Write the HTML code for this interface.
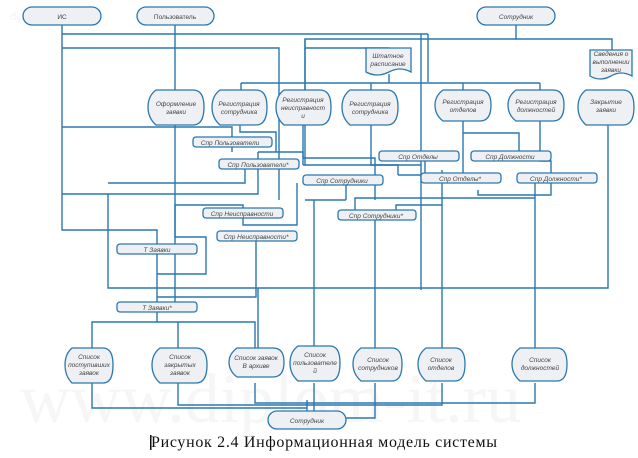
<!DOCTYPE html>
<html><head><meta charset="utf-8"><style>
html,body{margin:0;padding:0;background:#fff;width:638px;height:458px;overflow:hidden}
svg{display:block}
text{font-family:"Liberation Sans",sans-serif;font-style:italic;font-size:6.5px;fill:#444}
.l{fill:none;stroke:#2a78b0;stroke-width:1.4}
.s{fill:#eef0f3;stroke:#2a78b0;stroke-width:1.3}
</style></head><body>
<svg width="638" height="458" viewBox="0 0 638 458">
<text x="10" y="20" style="font-size:11px;fill:#f3f3f3;font-style:normal">diplom-it.ru</text>
<text x="20" y="422" style="font-size:70px;fill:#f6f6f6;font-family:'Liberation Serif',serif;font-style:normal">www.diplom-it.ru</text>
<g class="l">
<path d="M62 25V230H157V244"/>
<path d="M62 34H428"/>
<path d="M62 48H279V200"/>
<path d="M175 25V305"/>
<path d="M516 25V39H305V83"/>
<path d="M305 39V48H389M516 39H612V50"/>
<path d="M241 83H540M241 83V90M305 83V93M389 74V83M371 83V90M463 83V96M540 83V96"/>
<path d="M421 34V290M428 34V82"/>
<path d="M305 48V165"/>
<path d="M62 127H232V147M240 125V132H276V152"/>
<path d="M62 194H108V288H608V125"/>
<path d="M258 152H303V165M258 152V194H108"/>
<path d="M232 147V152M245 169V183H175M175 183H108"/>
<path d="M303 125V158H375V175M303 165H421"/>
<path d="M371 125V165H398V175M398 175H421"/>
<path d="M346 185V200M346 200H305"/>
<path d="M463 121V133H519V151M463 133V173M434 158H425V173"/>
<path d="M540 121V161H551V195H478V190"/>
<path d="M175 205H243V208M243 218V225H297V183"/>
<path d="M175 205V237H206V274H157"/>
<path d="M157 254V302M157 297H256V241"/>
<path d="M157 312V322H92V350M157 322H255V350M178 322V350"/>
<path d="M258 288V350"/>
<path d="M314 200V288M314 288V346"/>
<path d="M375 220V348M442 170V205H396V210M442 205V288"/>
<path d="M535 183V198H355V210M535 198V350M442 288V348"/>
<path d="M375 183V200"/>
<path d="M92 383V408H307M178 383V405H442V383M255 383V403H535V383M314 383V416M375 383V418H307M307 400V411"/>
</g>
<g class="s">
<rect x="23" y="7" width="78" height="18" rx="9"/>
<rect x="137" y="7" width="77" height="18" rx="9"/>
<rect x="477" y="7" width="78" height="18" rx="9"/>
<rect x="268" y="411" width="78" height="18" rx="9"/>
</g>
<text x="62" y="19" text-anchor="middle" style="font-style:normal">ИС</text>
<text x="175" y="19" text-anchor="middle" style="font-style:normal">Пользователь</text>
<text x="516" y="19" text-anchor="middle">Сотрудник</text>
<text x="307" y="423" text-anchor="middle">Сотрудник</text>
<g class="s">
<path d="M366 48H411V72Q400 66 389 72Q377 78 366 72Z"/>
<path d="M590 50H632V76Q621 70 611 76Q600 82 590 76Z"/>
</g>
<text x="388" y="58" text-anchor="middle">Штатное</text><text x="388" y="66" text-anchor="middle">расписание</text>
<text x="611" y="56" text-anchor="middle">Сведения о</text><text x="611" y="64" text-anchor="middle">выполнении</text><text x="611" y="72" text-anchor="middle">заявки</text>
<g class="s">
<path d="M156 90H193Q204 90 204 107Q204 125 193 125H156Q148 118 148 107Q148 96 156 90Z"/>
<path d="M220 90H256Q267 90 267 107Q267 125 256 125H220Q212 118 212 107Q212 96 220 90Z"/>
<path d="M284 90H320Q331 90 331 107Q331 125 320 125H284Q276 118 276 107Q276 96 284 90Z"/>
<path d="M350 90H387Q398 90 398 107Q398 125 387 125H350Q342 118 342 107Q342 96 350 90Z"/>
<path d="M443 90H480Q491 90 491 105Q491 121 480 121H443Q435 115 435 105Q435 96 443 90Z"/>
<path d="M516 90H553Q564 90 564 105Q564 121 553 121H516Q508 115 508 105Q508 96 516 90Z"/>
<path d="M586 90H623Q634 90 634 107Q634 125 623 125H586Q578 118 578 107Q578 96 586 90Z"/>
<path d="M72 348H103Q113 348 113 365Q113 383 103 383H72Q65 376 65 365Q65 354 72 348Z"/>
<path d="M160 348H196Q207 348 207 365Q207 383 196 383H160Q152 376 152 365Q152 354 160 348Z"/>
<path d="M237 348H273Q284 348 284 362Q284 377 273 377H237Q229 371 229 362Q229 354 237 348Z"/>
<path d="M298 346H330Q340 346 340 363Q340 381 330 381H298Q290 374 290 363Q290 352 298 346Z"/>
<path d="M361 348H392Q402 348 402 364Q402 381 392 381H361Q353 374 353 364Q353 354 361 348Z"/>
<path d="M426 348H455Q465 348 465 364Q465 381 455 381H426Q418 374 418 364Q418 354 426 348Z"/>
<path d="M520 348H557Q567 348 567 364Q567 381 557 381H520Q512 374 512 364Q512 354 520 348Z"/>
</g>
<g text-anchor="middle">
<text x="176" y="106">Оформление</text><text x="176" y="114">заявки</text>
<text x="239" y="106">Регистрация</text><text x="239" y="114">сотрудника</text>
<text x="303" y="102">Регистрация</text><text x="303" y="110">неисправност</text><text x="303" y="118">и</text>
<text x="370" y="106">Регистрация</text><text x="370" y="114">сотрудника</text>
<text x="463" y="104">Регистрация</text><text x="463" y="112">отделов</text>
<text x="536" y="104">Регистрация</text><text x="536" y="112">должностей</text>
<text x="606" y="104">Закрытие</text><text x="606" y="112">заявки</text>
<text x="89" y="359">Список</text><text x="89" y="367">поступивших</text><text x="89" y="375">заявок</text>
<text x="180" y="359">Список</text><text x="180" y="367">закрытых</text><text x="180" y="375">заявок</text>
<text x="256" y="360">Список заявок</text><text x="256" y="368">В архиве</text>
<text x="315" y="357">Список</text><text x="315" y="365">пользователе</text><text x="315" y="373">й</text>
<text x="378" y="362">Список</text><text x="378" y="370">сотрудников</text>
<text x="441" y="362">Список</text><text x="441" y="370">отделов</text>
<text x="540" y="362">Список</text><text x="540" y="370">должностей</text>
</g>
<g class="s">
<rect x="193" y="137" width="79" height="10" rx="3"/>
<rect x="219" y="159" width="80" height="10" rx="3"/>
<rect x="303" y="175" width="80" height="10" rx="3"/>
<rect x="379" y="151" width="80" height="10" rx="3"/>
<rect x="471" y="151" width="80" height="10" rx="3"/>
<rect x="421" y="173" width="80" height="10" rx="3"/>
<rect x="517" y="173" width="80" height="10" rx="3"/>
<rect x="338" y="210" width="78" height="10" rx="3"/>
<rect x="203" y="208" width="80" height="10" rx="3"/>
<rect x="217" y="231" width="80" height="10" rx="3"/>
<rect x="117" y="244" width="80" height="10" rx="3"/>
<rect x="117" y="302" width="80" height="10" rx="3"/>
</g>
<g text-anchor="middle">
<text x="230" y="145">Спр Пользователи</text>
<text x="258" y="167">Спр Пользователи*</text>
<text x="342" y="183">Спр Сотрудники</text>
<text x="418" y="159">Спр Отделы</text>
<text x="510" y="159">Спр Должности</text>
<text x="460" y="181">Спр Отделы*</text>
<text x="556" y="181">Спр Должности*</text>
<text x="376" y="218">Спр Сотрудники*</text>
<text x="242" y="216">Спр Неисправности</text>
<text x="256" y="239">Спр Неисправности*</text>
<text x="157" y="252">Т Заявки</text>
<text x="157" y="310">Т Заявки*</text>
</g>
<text x="151" y="447" textLength="346" style="font-family:'Liberation Serif',serif;font-style:normal;font-size:16px;fill:#111">Рисунок 2.4 Информационная модель системы</text>
<rect x="150" y="435" width="1.5" height="15" fill="#111"/>
</svg>
</body></html>
